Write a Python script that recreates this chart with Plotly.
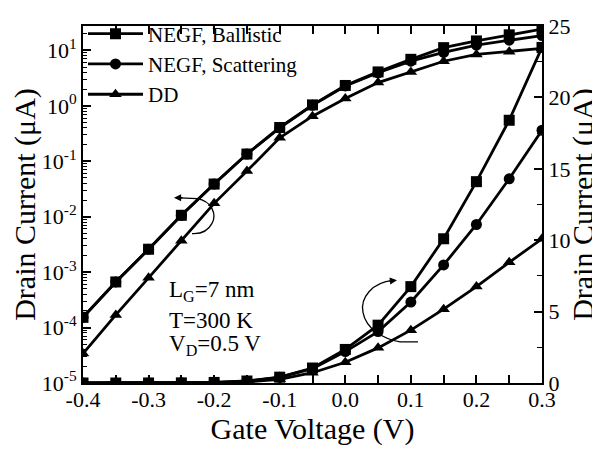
import plotly.graph_objects as go

# ---------------- data ----------------
VG = [-0.40, -0.35, -0.30, -0.25, -0.20, -0.15, -0.10, -0.05,
      0.00, 0.05, 0.10, 0.15, 0.20, 0.25, 0.30]

# log-scale (left axis) drain current, uA
LOG_BALLISTIC = [1.53e-4, 6.65e-4, 2.59e-3, 1.06e-2, 3.88e-2, 0.135, 0.407, 1.04,
                 2.33, 4.09, 6.9, 11.2, 14.8, 19.1, 24.3]
LOG_SCATTERING = [1.53e-4, 6.65e-4, 2.59e-3, 1.06e-2, 3.88e-2, 0.135, 0.40, 1.02,
                  2.28, 3.95, 6.4, 9.2, 12.5, 15.3, 18.5]
LOG_DD = [3.4e-5, 1.69e-4, 7.9e-4, 3.7e-3, 1.74e-2, 6.65e-2, 0.265, 0.65,
          1.36, 2.63, 4.09, 6.37, 8.45, 9.5, 10.9]

# linear-scale (right axis) drain current, uA
LIN_BALLISTIC = [0.0, 0.0, 0.003, 0.01, 0.04, 0.14, 0.41, 1.05,
                 2.35, 4.05, 6.75, 10.1, 14.1, 18.4, 23.5]
LIN_SCATTERING = [0.0, 0.0, 0.003, 0.01, 0.04, 0.13, 0.40, 1.0,
                  2.2, 3.6, 5.67, 8.27, 11.1, 14.3, 17.7]
LIN_DD = [0.0, 0.0, 0.001, 0.004, 0.02, 0.07, 0.26, 0.72,
          1.45, 2.46, 3.7, 5.17, 6.75, 8.45, 10.1]

SERIES_NAMES = ["NEGF, Ballistic", "NEGF, Scattering", "DD"]

X_TICKS = [-0.4, -0.3, -0.2, -0.1, 0.0, 0.1, 0.2, 0.3]
X_TICK_TEXT = ["-0.4", "-0.3", "-0.2", "-0.1", "0.0", "0.1", "0.2", "0.3"]
LOG_TICKS = [1e-5, 1e-4, 1e-3, 1e-2, 1e-1, 1e0, 1e1]
LOG_TICK_TEXT = ["10<sup>-5</sup>", "10<sup>-4</sup>", "10<sup>-3</sup>", "10<sup>-2</sup>",
                 "10<sup>-1</sup>", "10<sup>0</sup>", "10<sup>1</sup>"]
LIN_TICKS = [0, 5, 10, 15, 20, 25]

ANNOT_LINES = ["L<sub>G</sub>=7 nm", "T=300 K", "V<sub>D</sub>=0.5 V"]

# ---------------- style ----------------
FONT = "Liberation Serif, Times New Roman, serif"
SYMBOLS = ["square", "circle", "triangle-up"]
# the page body has an 8px default margin, so the figure is shrunk by 8px
OFF = 8
W, H = 600 - OFF, 450 - OFF
L, R, T, B = 83 - OFF, 58, 14 - OFF, 67
PW, PH = W - L - R, H - T - B


def P(px, py):
    """window pixel position -> paper fraction (for decorations only)"""
    return (px - OFF - L) / PW, (OFF + H - B - py) / PH


fig = go.Figure()

log_sets = [LOG_BALLISTIC, LOG_SCATTERING, LOG_DD]
lin_sets = [LIN_BALLISTIC, LIN_SCATTERING, LIN_DD]

for name, sym, ys in zip(SERIES_NAMES, SYMBOLS, log_sets):
    fig.add_trace(go.Scatter(
        x=VG, y=ys, name=name, mode="lines+markers", yaxis="y",
        line=dict(color="black", width=2.8),
        marker=dict(symbol=sym, size=11, color="black"),
    ))
for name, sym, ys in zip(SERIES_NAMES, SYMBOLS, lin_sets):
    fig.add_trace(go.Scatter(
        x=VG, y=ys, name=name, mode="lines+markers", yaxis="y2", showlegend=False,
        line=dict(color="black", width=2.8),
        marker=dict(symbol=sym, size=11, color="black"),
    ))

axis_common = dict(
    showline=True, linewidth=2, linecolor="black", showgrid=False, zeroline=False,
    ticks="inside", ticklen=8, tickwidth=1.5, tickcolor="black", automargin=False,
    tickfont=dict(family=FONT, size=22, color="black"),
)

fig.update_layout(
    template="none",
    width=W, height=H,
    margin=dict(l=L, r=R, t=T, b=B),
    paper_bgcolor="white", plot_bgcolor="white",
    font=dict(family=FONT, size=22, color="black"),
    xaxis=dict(
        range=[-0.4, 0.3], tickmode="array", tickvals=X_TICKS, ticktext=X_TICK_TEXT,
        mirror="ticks", ticklabelstandoff=-4,
        minor=dict(ticks="inside", dtick=0.05, tick0=0, ticklen=8, tickwidth=1.5, tickcolor="black"),
        title=dict(text="Gate Voltage (V)", font=dict(family=FONT, size=30), standoff=2),
        **axis_common,
    ),
    yaxis=dict(
        type="log", range=[-5, 1.44], tickmode="array", tickvals=LOG_TICKS, ticktext=LOG_TICK_TEXT,
        minor=dict(ticks="inside", dtick="D1", ticklen=4, tickwidth=1, tickcolor="black"),
        title=dict(text="Drain Current (μA)", font=dict(family=FONT, size=30), standoff=2),
        **axis_common,
    ),
    yaxis2=dict(
        overlaying="y", side="right", range=[0, 25], tickmode="array", tickvals=LIN_TICKS,
        minor=dict(ticks="inside", dtick=2.5, tick0=0, ticklen=5, tickwidth=1, tickcolor="black"),
        title=dict(text="Drain Current (μA)", font=dict(family=FONT, size=30), standoff=2),
        **axis_common,
    ),
    legend=dict(
        x=0.0, y=1.035, xanchor="left", yanchor="top", bgcolor="rgba(0,0,0,0)",
        font=dict(family=FONT, size=21, color="black"), itemwidth=55, tracegroupgap=0,
    ),
    showlegend=True,
)

# text block
for txt, py in zip(ANNOT_LINES, [288, 318, 344]):
    x0, y0 = P(167, py)
    fig.add_annotation(x=x0, y=y0, xref="paper", yref="paper", text=txt, showarrow=False,
                       xanchor="left", yanchor="middle",
                       font=dict(family=FONT, size=23, color="black"))


def path_from(points_cmds):
    out = []
    for cmd, pts in points_cmds:
        coords = " ".join("%.4f,%.4f" % P(*p) for p in pts)
        out.append(cmd + " " + coords)
    return " ".join(out)


# curved arrow pointing to the left (log) axis
left_arc = path_from([("M", [(180, 191.6)]), ("L", [(197, 192.5)]),
                      ("C", [(212, 195), (217, 209), (212, 218)]),
                      ("C", [(208, 226), (200, 229), (192, 228.5)])])
# curved arrow pointing to the right (linear) axis
right_arc = path_from([("M", [(393, 277)]),
                       ("C", [(372, 279), (360, 295), (363, 310)]),
                       ("C", [(366, 328), (385, 338), (400, 340.5)]),
                       ("L", [(418, 340.5)])])
for pth in (left_arc, right_arc):
    fig.add_shape(type="path", path=pth, xref="paper", yref="paper",
                  line=dict(color="black", width=1.3))

for tip, off in [((174, 191.5), (10, 0)), ((397, 276.7), (-9, 1))]:
    tx, ty = P(*tip)
    fig.add_annotation(x=tx, y=ty, xref="paper", yref="paper", text="", showarrow=True,
                       ax=off[0], ay=off[1], arrowhead=2, arrowsize=1.1, arrowwidth=1.3,
                       arrowcolor="black", standoff=0, startstandoff=0)

fig.write_html("out.html")
